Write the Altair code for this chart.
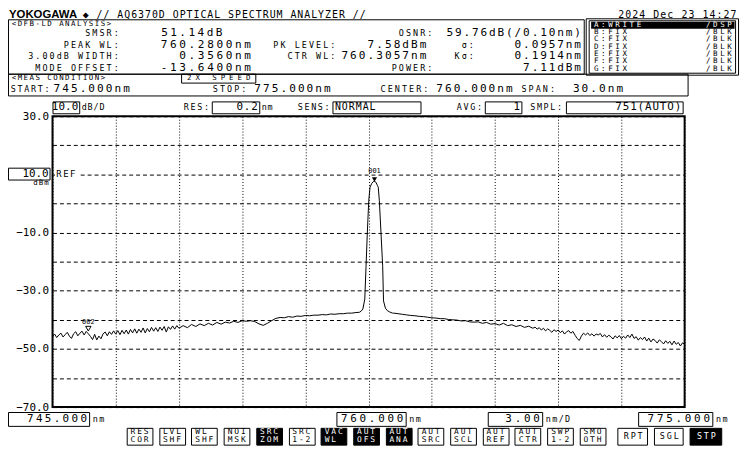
import altair as alt
import pandas as pd

# ---------------- spectrum data ----------------
WL_A = [745.0, 745.1, 745.2, 745.3, 745.4, 745.5, 745.6, 745.7, 745.8, 745.9,
        746.0, 746.1, 746.2, 746.3, 746.4, 746.5, 746.6, 746.7, 746.8, 746.9,
        747.0, 747.1, 747.2, 747.3, 747.4, 747.5, 747.6, 747.7, 747.8, 747.9,
        748.0, 748.1, 748.2, 748.3, 748.4, 748.5, 748.6, 748.7, 748.8, 748.9,
        749.0, 749.1, 749.2, 749.3, 749.4, 749.5, 749.6, 749.7, 749.8, 749.9,
        750.0, 750.1, 750.2, 750.3, 750.4, 750.5, 750.6, 750.7, 750.8, 750.9,
        751.0]
LV_A = [-45.8, -44.9, -46.1, -45.2, -44.6, -45.9, -45.1, -44.3, -45.6, -46.4,
        -44.8, -44.1, -45.5, -44.6, -43.9, -45.2, -44.0, -44.8, -45.7, -46.8,
        -45.0, -46.9, -45.6, -46.5, -44.8, -44.2, -45.5, -44.1, -45.0, -43.8,
        -44.9, -43.7, -45.1, -43.6, -44.8, -43.5, -44.9, -43.3, -44.5, -43.1,
        -44.6, -43.2, -44.3, -42.8, -44.5, -43.0, -44.1, -42.6, -43.9, -42.7,
        -44.0, -42.5, -43.6, -42.3, -44.2, -42.4, -43.3, -42.1, -43.2, -42.0,
        -42.9]
WL_B = [751.2, 751.4, 751.6, 751.8, 752.0, 752.2, 752.4, 752.6, 752.8, 753.0,
        753.2, 753.4, 753.6, 753.8, 754.0, 754.2, 754.4, 754.6, 754.8, 755.0,
        755.2, 755.4, 755.6, 755.8, 756.0, 756.2, 756.4, 756.6, 756.8, 757.0,
        757.2, 757.4, 757.6, 757.8, 758.0, 758.2, 758.4, 758.6, 758.8, 759.0,
        759.2, 759.4]
LV_B = [-42.0, -42.7, -41.6, -42.3, -41.4, -42.0, -41.2, -41.8, -40.9, -41.5,
        -40.8, -41.1, -40.5, -40.9, -40.3, -40.5, -40.3, -40.6, -41.4, -41.9,
        -41.2, -40.3, -39.5, -39.2, -39.3, -38.9, -39.1, -38.7, -38.8, -38.5,
        -38.6, -38.4, -38.4, -38.2, -38.3, -38.0, -38.1, -37.9, -37.9, -37.7,
        -37.7, -37.5]
WL_PK = [759.57, 759.65, 759.73, 759.82, 759.88, 759.94, 760.01, 760.07, 760.15, 760.22,
         760.28, 760.35, 760.42, 760.46, 760.51, 760.59, 760.67, 760.71, 760.80, 760.90,
         761.00, 761.14]
LV_PK = [-37.4, -37.0, -36.3, -32.9, -21.6, -10.2, 1.1, 5.6, 6.9, 7.5,
         7.58, 7.3, 6.2, 5.6, 1.1, -10.2, -21.6, -33.5, -36.0, -36.9,
         -37.3, -37.7]
WL_C = [761.2, 761.4, 761.6, 761.8, 762.0, 762.2, 762.4, 762.6, 762.8, 763.0,
        763.2, 763.4, 763.6, 763.8, 764.0, 764.2, 764.4, 764.6, 764.8, 765.0,
        765.2, 765.4, 765.6, 765.8, 766.0, 766.2, 766.4, 766.6, 766.8, 767.0,
        767.2, 767.4, 767.6, 767.8]
LV_C = [-37.7, -37.9, -38.1, -38.3, -38.5, -38.6, -38.8, -38.9, -39.1, -39.3,
        -39.4, -39.6, -39.6, -39.9, -40.0, -40.1, -40.4, -40.3, -40.7, -40.8,
        -40.7, -41.2, -40.9, -41.5, -41.3, -41.8, -41.2, -42.0, -41.7, -42.3,
        -41.9, -42.6, -42.2, -42.9]
WL_D = [767.9,
        768.0, 768.1, 768.2, 768.3, 768.4, 768.5, 768.6, 768.7, 768.8, 768.9,
        769.0, 769.1, 769.2, 769.3, 769.4, 769.5, 769.6, 769.7, 769.8, 769.9,
        770.0, 770.1, 770.2, 770.3, 770.4, 770.5, 770.6, 770.7, 770.8, 770.9,
        771.0, 771.1, 771.2, 771.3, 771.4, 771.5, 771.6, 771.7, 771.8, 771.9,
        772.0, 772.1, 772.2, 772.3, 772.4, 772.5, 772.6, 772.7, 772.8, 772.9,
        773.0, 773.1, 773.2, 773.3, 773.4, 773.5, 773.6, 773.7, 773.8, 773.9,
        774.0, 774.1, 774.2, 774.3, 774.4, 774.5, 774.6, 774.7, 774.8, 774.9,
        775.0]
LV_D = [-42.5,
        -43.2, -42.7, -43.5, -42.9, -43.8, -43.1, -43.6, -44.3, -43.4, -44.0,
        -43.5, -44.4, -43.8, -44.9, -44.1, -43.7, -44.6, -44.0, -45.3, -46.4,
        -47.1, -45.6, -44.6, -45.2, -44.5, -45.4, -44.8, -45.6, -44.9, -45.2,
        -44.7, -45.9, -45.1, -46.0, -45.3, -45.8, -46.6, -45.5, -46.2, -45.4,
        -46.5, -45.7, -46.3, -45.2, -46.1, -44.9, -46.4, -45.8, -47.0, -46.1,
        -46.8, -45.9, -47.3, -46.3, -47.6, -46.6, -47.1, -48.0, -46.9, -47.5,
        -48.3, -47.2, -48.1, -47.4, -48.6, -47.3, -48.4, -47.8, -49.0, -47.9,
        -48.4]

X_GRID = [745, 748, 751, 754, 757, 760, 763, 766, 769, 772, 775]
Y_GRID = [30, 20, 10, 0, -10, -20, -30, -40, -50, -60, -70]
Y_LABELED = [30, -10, -30, -50, -70]
X_DOMAIN = [745, 775]
Y_DOMAIN = [-70, 30]

MK_NAME = ["001", "002"]
MK_WL = [760.28, 746.7]
MK_LV = [7.58, -44.4]
MK_FILLED = [True, False]

# ---------------- layout helpers (page pixel coordinates) ----------------
OX, OY = 53, 115        # page position of the plot-area origin
PW, PH = 639, 294       # plot-area size
MONO = "DejaVu Sans Mono"

TEXT_ROWS = []
RECT_ROWS = []


def put(s, x, y, size, pitch, align="left", color="black"):
    n = len(s)
    if align == "left":
        x0 = x
    elif align == "right":
        x0 = x - n * pitch
    else:
        x0 = x - n * pitch / 2
    for i, c in enumerate(s):
        if c == " ":
            continue
        TEXT_ROWS.append(dict(ch=c, x=x0 + (i + 0.5) * pitch - OX, y=y - OY,
                              size=size, col=color))


def box(x1, y1, x2, y2, fill="transparent", stroke="black"):
    RECT_ROWS.append(dict(x=x1 + 0.5 - OX, x2=x2 + 0.5 - OX, y=y1 + 0.5 - OY,
                          y2=y2 + 0.5 - OY, fill=fill, stroke=stroke))


# header
put("◆", 82, 12.5, 10, 9)
put("// AQ6370D OPTICAL SPECTRUM ANALYZER //", 97, 13, 10, 7.0)
put("2024 Dec 23 14:27", 745, 13, 10, 7.1, "right")

# DFB-LD analysis box
box(8, 17, 590, 72)
put("<DFB-LD ANALYSIS>", 11, 22, 7.5, 6.0)
LBL = (8.5, 7.2)
VS = 11.2
R1, R2, R3, R4 = 31, 42.7, 54.4, 66
put("SMSR:", 121, R1, *LBL, "right")
put("51.14dB", 226, R1, VS, 9.2, "right")
put("OSNR:", 438, R1, *LBL, "right")
put("59.76dB(/0.10nm)", 588, R1, VS, 8.6, "right")
put("PEAK WL:", 121, R2, *LBL, "right")
put("760.2800nm", 255, R2, VS, 9.4, "right")
put("PK LEVEL:", 340, R2, *LBL, "right")
put("7.58dBm", 432, R2, VS, 8.8, "right")
put("σ:", 480, R2, *LBL, "right")
put("0.0957nm", 588, R2, VS, 8.6, "right")
put("3.00dB WIDTH:", 121, R3, *LBL, "right")
put("0.3560nm", 255, R3, VS, 9.4, "right")
put("CTR WL:", 340, R3, *LBL, "right")
put("760.3057nm", 432, R3, VS, 8.8, "right")
put("Kσ:", 480, R3, *LBL, "right")
put("0.1914nm", 588, R3, VS, 8.6, "right")
put("MODE OFFSET:", 121, R4, *LBL, "right")
put("-13.6400nm", 255, R4, VS, 9.4, "right")
put("POWER:", 438, R4, *LBL, "right")
put("7.11dBm", 588, R4, VS, 8.6, "right")

# trace status box
box(592, 16, 746, 73)
box(595, 18, 743, 71)
box(597, 19, 742, 26, fill="black", stroke="transparent")
TRACES = [("A:WRITE", "/DSP"), ("B:FIX", "/BLK"), ("C:FIX", "/BLK"), ("D:FIX", "/BLK"),
          ("E:FIX", "/BLK"), ("F:FIX", "/BLK"), ("G:FIX", "/BLK")]
for i, (a, b) in enumerate(TRACES):
    yy = 22.6 + i * 7.4
    col = "white" if i == 0 else "black"
    put(a, 599, yy, 7.6, 7.2, "left", col)
    put(b, 741, yy, 7.6, 7.2, "right", col)

# measurement condition box
box(8, 72, 695, 94)
put("<MEAS CONDITION>", 11, 76.5, 7.5, 6.0)
box(183, 72, 258, 81)
put("2X SPEED", 187, 76.5, 7.5, 8.5)
put("START:", 10, 88, 8.5, 6.8)
put("745.000nm", 53, 88, VS, 8.8)
put("STOP:", 250, 88, *LBL, "right")
put("775.000nm", 256, 88, VS, 8.8)
put("CENTER:", 434, 88, *LBL, "right")
put("760.000nm", 440, 88, VS, 8.8)
put("SPAN:", 562, 88, *LBL, "right")
put("30.0nm", 578, 88, VS, 8.8)

# settings row
box(53, 100, 80, 112)
put("10.0", 79, 106, 11, 6.7, "right")
put("dB/D", 82, 106, 8.5, 6.0)
put("RES:", 212, 106, 8.5, 6.8, "right")
box(214, 100, 262, 112)
put("0.2", 261, 106, 11, 7.5, "right")
put("nm", 264, 106, 8.5, 6.0)
put("SENS:", 334, 106, 8.5, 6.8, "right")
box(336, 100, 425, 112)
put("NORMAL", 338, 106, 10, 7.0)
put("AVG:", 488, 106, 8.5, 6.8, "right")
box(490, 100, 527, 112)
put("1", 526, 106, 11, 7.5, "right")
put("SMPL:", 569, 106, 8.5, 6.8, "right")
box(572, 100, 690, 112)
put("751(AUTO)", 689, 106, 11, 7.5, "right")

# reference level
box(8, 167, 50, 179)
put("10.0", 49, 173, 11, 6.6, "right")
put("dBm", 33, 183, 7.5, 5.6)
box(55, 168, 79, 178, fill="white", stroke="transparent")
put("REF", 56, 173, 9, 7.0)

# bottom scale row
BY = 421
box(8, 414, 90, 428)
put("745.000", 89, BY, 11, 9.0, "right")
put("nm", 93, BY, 8.5, 6.5)
box(340, 414, 410, 428)
put("760.000", 409, BY, 11, 9.4, "right")
put("nm", 413, BY, 8.5, 6.5)
box(493, 414, 548, 428)
put("3.00", 547, BY, 11, 9.4, "right")
put("nm/D", 551, BY, 8.5, 6.5)
box(645, 414, 720, 428)
put("775.000", 719, BY, 11, 9.4, "right")
put("nm", 723, BY, 8.5, 6.5)

# soft keys
KEYS = [("RES", "COR"), ("LVL", "SHF"), ("WL", "SHF"), ("NOI", "MSK"), ("SRC", "ZOM"),
        ("SRC", "1-2"), ("VAC", "WL"), ("AUT", "OFS"), ("AUT", "ANA"), ("AUT", "SRC"),
        ("AUT", "SCL"), ("AUT", "REF"), ("AUT", "CTR"), ("SWP", "1-2"), ("SMO", "OTH")]
KEYS_ON = [4, 6, 7, 8]
for i, (a, b) in enumerate(KEYS):
    kx = 128 + 32.7 * i
    on = i in KEYS_ON
    box(round(kx), 430, round(kx) + 26, 447, fill="black" if on else "transparent")
    col = "white" if on else "black"
    put(a, kx + 3, 434.5, 8, 6.7, "left", col)
    put(b, kx + 3, 442.5, 8, 6.7, "left", col)
for label, x1, x2, on in [("RPT", 624, 654, False), ("SGL", 661, 690, False), ("STP", 697, 729, True)]:
    box(x1, 430, x2, 447, fill="black" if on else "transparent")
    put(label, (x1 + x2) / 2 + 1, 438.5, 8.5, 7.0, "center", "white" if on else "black")

# ---------------- chart ----------------
spec = pd.DataFrame({"wl": WL_A + WL_B + WL_PK + WL_C + WL_D,
                     "lv": LV_A + LV_B + LV_PK + LV_C + LV_D})
xs = alt.Scale(domain=X_DOMAIN, nice=False, zero=False)
ys = alt.Scale(domain=Y_DOMAIN, nice=False, zero=False)
lab_expr = ("indexof([" + ",".join(str(v) for v in Y_LABELED) +
            "], datum.value) >= 0 ? format(datum.value, '.1f') : ''")

trace = alt.Chart(spec).mark_line(color="black", strokeWidth=1, clip=True).encode(
    x=alt.X("wl:Q", scale=xs, axis=alt.Axis(values=X_GRID, grid=True, gridDash=[1, 2],
                                            gridColor="black", gridOpacity=1, gridWidth=1,
                                            labels=False, ticks=False, domain=False, title=None)),
    y=alt.Y("lv:Q", scale=ys, axis=alt.Axis(values=Y_GRID, grid=True, gridDash=[4, 3],
                                            gridColor="black", gridOpacity=1, gridWidth=1,
                                            labelExpr=lab_expr, labelFont=MONO, labelFontSize=11,
                                            labelColor="black", labelPadding=4, labelOverlap=False,
                                            labelFlush=False, ticks=False, domain=False, title=None)),
)

mk = pd.DataFrame({"name": MK_NAME, "wl": MK_WL, "lv": MK_LV, "filled": MK_FILLED})
mx = alt.X("wl:Q", scale=xs, axis=None)
my = alt.Y("lv:Q", scale=ys, axis=None)
mk_fill = alt.Chart(mk).transform_filter("datum.filled").mark_point(
    shape="triangle-down", filled=True, color="black", size=28, yOffset=-2, opacity=1
).encode(x=mx, y=my)
mk_open = alt.Chart(mk).transform_filter("!datum.filled").mark_point(
    shape="triangle-down", filled=False, color="black", size=30, yOffset=-4, strokeWidth=1, opacity=1
).encode(x=mx, y=my)
mk_text = alt.Chart(mk).mark_text(font=MONO, fontSize=7, dy=-11, color="black").encode(
    x=mx, y=my, text="name:N")

rects = alt.Chart(pd.DataFrame(RECT_ROWS)).mark_rect(strokeWidth=1).encode(
    x=alt.X("x:Q", scale=None, axis=None), x2="x2:Q",
    y=alt.Y("y:Q", scale=None, axis=None), y2="y2:Q",
    fill=alt.Fill("fill:N", scale=None, legend=None),
    stroke=alt.Stroke("stroke:N", scale=None, legend=None),
)
texts = alt.Chart(pd.DataFrame(TEXT_ROWS)).mark_text(font=MONO, align="center", baseline="middle").encode(
    x=alt.X("x:Q", scale=None, axis=None),
    y=alt.Y("y:Q", scale=None, axis=None),
    text="ch:N",
    size=alt.Size("size:Q", scale=None, legend=None),
    color=alt.Color("col:N", scale=None, legend=None),
)
logo = alt.Chart(pd.DataFrame({"t": ["YOKOGAWA"]})).mark_text(
    font="Liberation Sans", fontWeight="bold", fontSize=11.5, align="left", baseline="middle", color="black"
).encode(x=alt.value(9 - OX), y=alt.value(13 - OY), text="t:N")

chart = alt.layer(trace, mk_fill, mk_open, mk_text, rects, texts, logo).resolve_scale(
    x="independent", y="independent"
).properties(
    width=PW, height=PH,
    padding={"left": OX - 8, "top": OY - 8, "right": 742 - (OX - 8) - PW, "bottom": 444 - (OY - 8) - PH},
    autosize=alt.AutoSizeParams(type="none"),
    background="white",
).configure_view(stroke="black", strokeWidth=2)

chart.save("out.html", embed_options={"renderer": "svg", "actions": False})
